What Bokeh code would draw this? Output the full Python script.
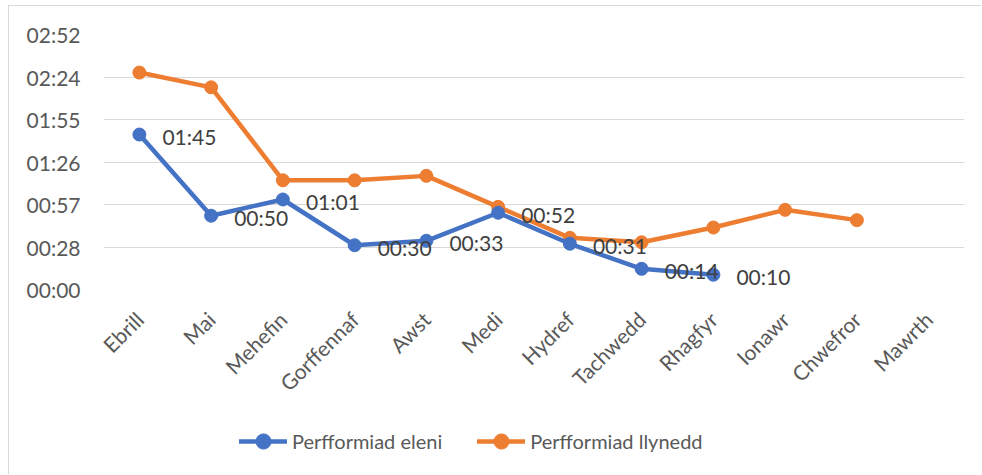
from bokeh.plotting import figure
from bokeh.layouts import column
from bokeh.models import FactorRange, Range1d, FixedTicker, Legend, LegendItem, ColumnDataSource
from bokeh.core.properties import value
from bokeh.embed import file_html
from bokeh.resources import INLINE

months = ["Ebrill", "Mai", "Mehefin", "Gorffennaf", "Awst", "Medi", "Hydref",
          "Tachwedd", "Rhagfyr", "Ionawr", "Chwefror", "Mawrth"]
this_year_s = [105, 50, 61, 30, 33, 52, 31, 14, 10]          # seconds
last_year_s = [147, 137, 74, 74, 77, 56, 35, 32, 42, 54, 47]  # seconds
y_ticks = [0, 28.8, 57.6, 86.4, 115.2, 144.0, 172.8]
y_tick_labels = ["00:00", "00:28", "00:57", "01:26", "01:55", "02:24", "02:52"]
series_names = ["Perfformiad eleni", "Perfformiad llynedd"]

BLUE = "#4472C4"
ORANGE = "#ED7D31"
AXIS_TXT = "#595959"
FONT = "Lato"
FS = "21px"
BORDER = "1px solid #d9d9d9"


def mmss(s):
    return f"{int(s) // 60:02d}:{int(s) % 60:02d}"


x_range = FactorRange(*months, range_padding=0)

p = figure(width=973, height=406, output_backend="svg", toolbar_location=None,
           x_range=x_range, y_range=Range1d(0, 172.8),
           min_border_left=94, min_border_right=18, min_border_top=28, min_border_bottom=123)
p.styles = {"border-left": BORDER, "border-top": BORDER,
            "margin-left": "8px", "margin-top": "5px"}
p.outline_line_color = None
p.xgrid.grid_line_color = None
p.ygrid.grid_line_color = "#d9d9d9"
p.ygrid.grid_line_width = 1

p.yaxis.ticker = FixedTicker(ticks=y_ticks)
p.yaxis.major_label_overrides = {t: l for t, l in zip(y_ticks, y_tick_labels)}
for ax in (p.xaxis, p.yaxis):
    ax.axis_line_color = None
    ax.major_tick_line_color = None
    ax.minor_tick_line_color = None
    ax.major_label_text_font = FONT
    ax.major_label_text_font_size = FS
    ax.major_label_text_color = AXIS_TXT
p.yaxis.major_label_standoff = 17
p.xaxis.major_label_orientation = 0.785398
p.xaxis.major_label_standoff = 20

src_a = ColumnDataSource(dict(x=months[:len(this_year_s)], y=this_year_s,
                              lab=[mmss(v) for v in this_year_s]))
src_b = ColumnDataSource(dict(x=months[:len(last_year_s)], y=last_year_s))

line_a = dict(line_color=BLUE, line_width=4.5, line_join="round", line_cap="round")
line_b = dict(line_color=ORANGE, line_width=4.5, line_join="round", line_cap="round")

p.line("x", "y", source=src_b, **line_b)
p.scatter("x", "y", source=src_b, size=13, color=ORANGE)
p.line("x", "y", source=src_a, **line_a)
p.scatter("x", "y", source=src_a, size=13, color=BLUE)

p.text("x", "y", text="lab", source=src_a, x_offset=23, y_offset=2,
       text_font=value(FONT), text_font_size=FS, text_color="#404040",
       text_baseline="middle", text_align="left")

# legend strip below the chart (its series sit outside its visible y range)
q = figure(width=973, height=63, output_backend="svg", toolbar_location=None,
           x_range=x_range, y_range=Range1d(-2, -1), min_border=0,
           x_axis_location=None, y_axis_location=None)
q.styles = {"border-left": BORDER, "margin-left": "8px"}
q.grid.visible = False
q.outline_line_color = None
la = q.line("x", "y", source=src_a, **line_a)
sa = q.scatter("x", "y", source=src_a, size=13, color=BLUE)
lb = q.line("x", "y", source=src_b, **line_b)
sb = q.scatter("x", "y", source=src_b, size=13, color=ORANGE)
legend = Legend(items=[LegendItem(label=series_names[0], renderers=[la, sa]),
                       LegendItem(label=series_names[1], renderers=[lb, sb])],
                location=(136, 14), orientation="horizontal",
                border_line_color=None, background_fill_alpha=0,
                padding=0, margin=0, spacing=35, glyph_width=48, glyph_height=38,
                label_height=38, label_standoff=5,
                label_text_font=FONT, label_text_font_size="20px",
                label_text_color=AXIS_TXT)
q.add_layout(legend, "center")

layout = column(p, q, spacing=0)
open("out.html", "w").write(file_html(layout, INLINE))
